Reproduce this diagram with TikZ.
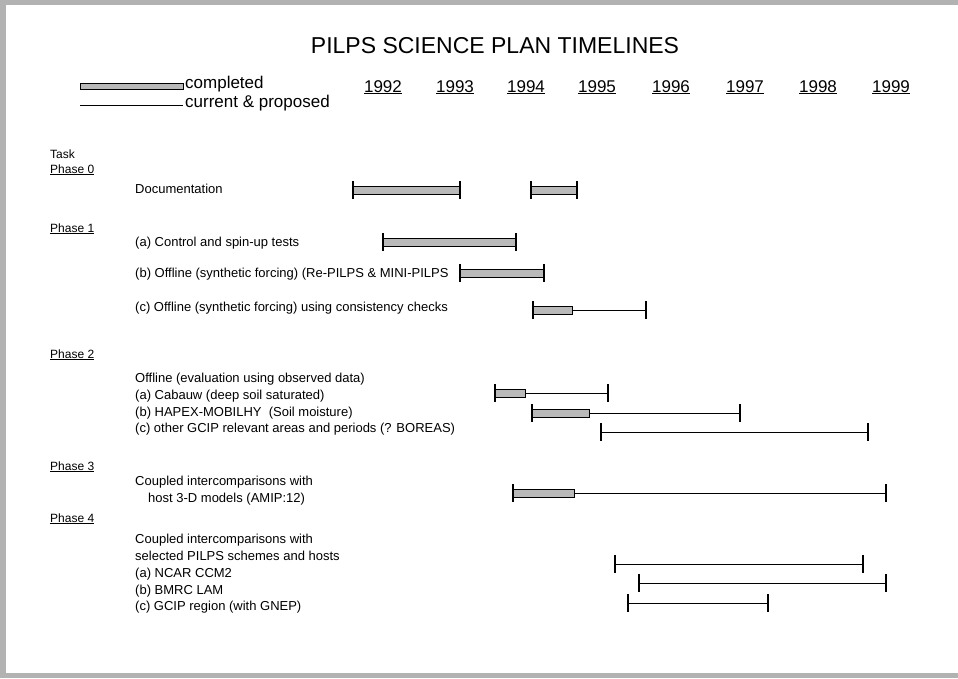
\documentclass[tikz,border=0pt]{standalone}
\usepackage{fontspec}
\setmainfont{Liberation Sans}
\usepackage{tikz}
\usetikzlibrary{positioning}

\begin{document}
\begin{tikzpicture}[x=1pt,y=-1pt,
  txt/.style={anchor=base west,inner sep=0pt,font=\fontsize{13}{15}\selectfont},
  phase/.style={anchor=base west,inner sep=0pt,font=\fontsize{12}{14}\selectfont},
  yr/.style={anchor=base,inner sep=0pt,font=\fontsize{17}{20}\selectfont},
  done/.style={draw=black,line width=0.9pt,fill=gray!55},
  todo/.style={draw=black,line width=1pt},
  endtick/.style={draw=black,line width=1.2pt}]
\useasboundingbox (0,0) rectangle (958,678);
% scanned page edges
\fill[gray!60] (0,0) rectangle (958,5);
\fill[gray!60] (0,0) rectangle (6,678);
\fill[gray!60] (0,673) rectangle (958,678);
% title and legend
\node[anchor=base,inner sep=0pt,font=\fontsize{23}{26}\selectfont] (title) at (495,53) {PILPS SCIENCE PLAN TIMELINES};
\draw[done,line width=0.6pt] (80,83) rectangle (183,89);
\node[txt,font=\fontsize{17}{20}\selectfont] (legdone) at (185,88) {completed};
\draw[todo] (80,105) -- (183,105);
\node[txt,font=\fontsize{17}{20}\selectfont] (legtodo) at (185,107) {current \& proposed};
\node[yr] (y1992) at (383,92) {\underline{1992}};
\node[yr] (y1993) at (455,92) {\underline{1993}};
\node[yr] (y1994) at (526,92) {\underline{1994}};
\node[yr] (y1995) at (597,92) {\underline{1995}};
\node[yr] (y1996) at (671,92) {\underline{1996}};
\node[yr] (y1997) at (745,92) {\underline{1997}};
\node[yr] (y1998) at (818,92) {\underline{1998}};
\node[yr] (y1999) at (891,92) {\underline{1999}};
% task labels
\node[phase] (task) at (50,158) {Task};
\node[phase] (ph0) at (50,173) {\underline{Phase 0}};
\node[txt] (doc) at (135,193) {Documentation};
\node[phase] (ph1) at (50,232) {\underline{Phase 1}};
\node[txt] (p1a) at (135,246) {(a) Control and spin-up tests};
\node[txt] (p1b) at (135,277) {(b) Offline (synthetic forcing) (Re-PILPS \& MINI-PILPS};
\node[txt] (p1c) at (135,311) {(c) Offline (synthetic forcing) using consistency checks};
\node[phase] (ph2) at (50,358) {\underline{Phase 2}};
\node[txt] (p2) at (135,382) {Offline (evaluation using observed data)};
\node[txt] (p2a) at (135,399) {(a) Cabauw (deep soil saturated)};
\node[txt] (p2b) at (135,416) {(b) HAPEX-MOBILHY\ \ (Soil moisture)};
\node[txt] (p2c) at (135,432) {(c) other GCIP relevant areas and periods (? BOREAS)};
\node[phase] (ph3) at (50,470) {\underline{Phase 3}};
\node[txt] (p3) at (135,485) {Coupled intercomparisons with};
\node[txt] (p3b) at (148,502) {host 3-D models (AMIP:12)};
\node[phase] (ph4) at (50,522) {\underline{Phase 4}};
\node[txt] (p4) at (135,543) {Coupled intercomparisons with};
\node[txt] (p4s) at (135,560) {selected PILPS schemes and hosts};
\node[txt] (p4a) at (135,577) {(a) NCAR CCM2};
\node[txt] (p4b) at (135,594) {(b) BMRC LAM};
\node[txt] (p4c) at (135,610) {(c) GCIP region (with GNEP)};
% timelines: y / start / end of completed / end
\foreach \y/\a/\b/\c in {190/353/460/460, 190/531/577/577, 242/383/516/516,
    273/460/544/544, 310/533/572/646, 393/495/525/608, 413/532/589/740,
    432/601/601/868, 493/513/574/886, 564/615/615/863, 583/639/639/886,
    603/628/628/768}{
  \draw[todo] (\b,\y) -- (\c,\y);
  \draw[done] (\a,\y-4) rectangle (\b,\y+4);
  \draw[endtick] (\a,\y-9) -- (\a,\y+9) (\c,\y-9) -- (\c,\y+9);
}
\end{tikzpicture}
\end{document}
